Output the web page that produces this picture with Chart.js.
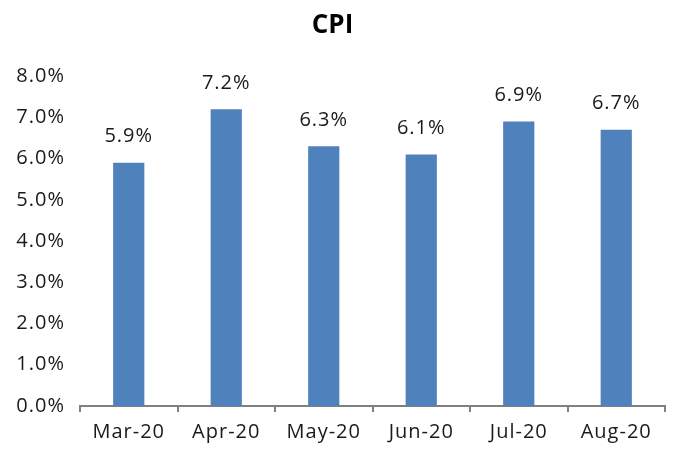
<!DOCTYPE html>
<html>
<head>
<meta charset="utf-8">
<script src="https://cdn.jsdelivr.net/npm/chart.js@4/dist/chart.umd.min.js"></script>
<style>
html,body{margin:0;padding:0;background:#fff;}
#wrap{width:673px;height:461px;}
</style>
</head>
<body>
<div id="wrap"><canvas id="c" width="673" height="461"></canvas></div>
<script>
const categories = ["Mar-20", "Apr-20", "May-20", "Jun-20", "Jul-20", "Aug-20"];
const cpiValues = [5.9, 7.2, 6.3, 6.1, 6.9, 6.7];
const yTicks = [0, 1, 2, 3, 4, 5, 6, 7, 8];

const fontFamily = "'Open Sans', 'Noto Sans', sans-serif";
const textColor = '#1a1a1a';

const spacingPlugin = {
  id: 'spacing',
  beforeDraw(chart) {
    if ('letterSpacing' in chart.ctx) chart.ctx.letterSpacing = '0px';
  },
  afterDatasetsDraw(chart) {
    if ('letterSpacing' in chart.ctx) chart.ctx.letterSpacing = '1px';
  }
};

const labelPlugin = {
  id: 'barLabels',
  afterDatasetsDraw(chart) {
    const ctx = chart.ctx;
    const meta = chart.getDatasetMeta(0);
    ctx.save();
    ctx.font = `20px ${fontFamily}`;
    ctx.fillStyle = textColor;
    ctx.textAlign = 'center';
    ctx.textBaseline = 'middle';
    meta.data.forEach((bar, i) => {
      ctx.fillText(cpiValues[i].toFixed(1) + '%', bar.x, bar.y - 26);
    });
    ctx.restore();
  }
};

new Chart(document.getElementById('c'), {
  type: 'bar',
  data: {
    labels: categories,
    datasets: [{
      data: cpiValues,
      backgroundColor: '#4F81BD',
      borderWidth: 0,
      barPercentage: 0.32,
      categoryPercentage: 1
    }]
  },
  options: {
    responsive: false,
    animation: false,
    devicePixelRatio: 1,
    layout: { padding: { left: 0, right: 8, top: 0, bottom: 0 } },
    plugins: {
      legend: { display: false },
      tooltip: { enabled: false },
      title: {
        display: true,
        text: 'CPI',
        color: '#000',
        font: { family: fontFamily, size: 26, weight: 'bold', lineHeight: 1.2 },
        padding: { top: 10, bottom: 35 }
      }
    },
    scales: {
      x: {
        grid: {
          display: true,
          drawOnChartArea: false,
          drawTicks: true,
          tickLength: 6,
          color: '#808080',
          lineWidth: 2,
          offset: true
        },
        border: { display: true, color: '#808080', width: 2 },
        ticks: {
          z: 1,
          color: textColor,
          font: { family: fontFamily, size: 20 },
          padding: 8,
          maxRotation: 0
        },
        afterFit(s) { s.height = 55; }
      },
      y: {
        min: 0,
        max: 8,
        afterBuildTicks(s) { s.ticks = yTicks.map(v => ({ value: v })); },
        grid: { display: false, drawTicks: false },
        border: { display: false },
        ticks: {
          z: 1,
          color: textColor,
          font: { family: fontFamily, size: 20 },
          padding: 15,
          callback: v => Number(v).toFixed(1) + '%'
        },
        afterFit(s) { s.width = 80; }
      }
    }
  },
  plugins: [spacingPlugin, labelPlugin]
});
</script>
</body>
</html>
